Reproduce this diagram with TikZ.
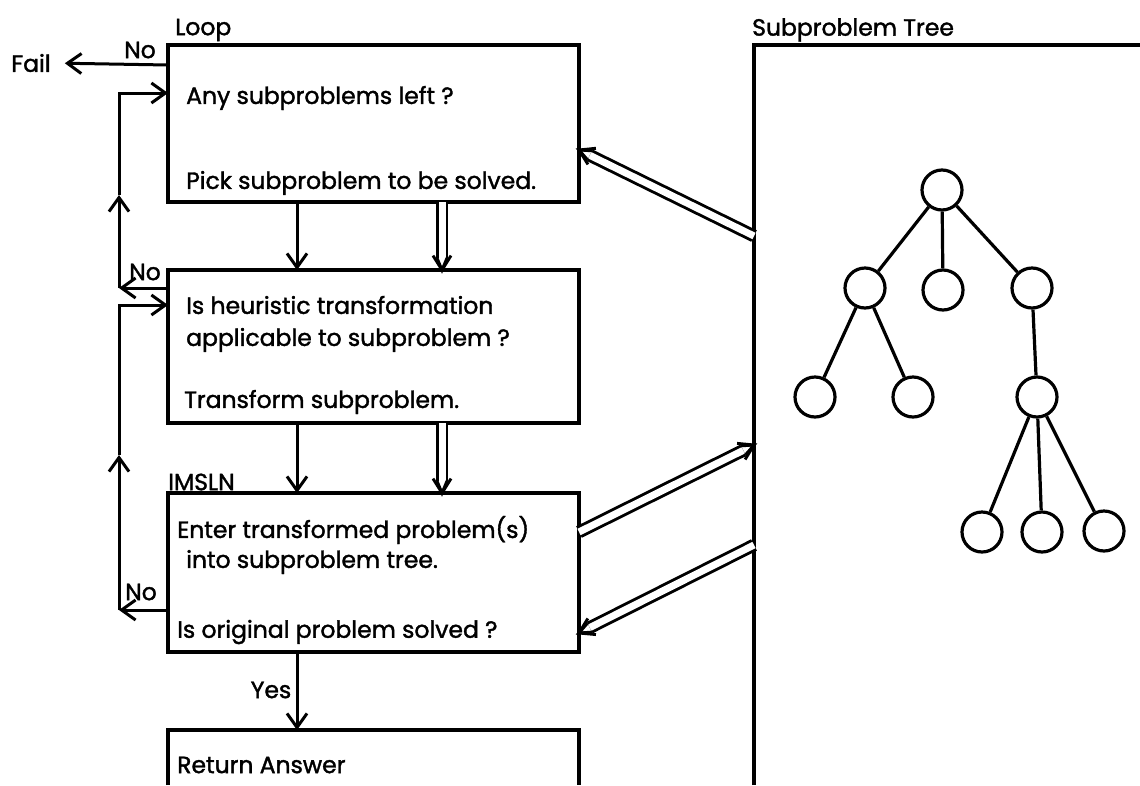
\documentclass[tikz,border=0pt]{standalone}
\usepackage{fontspec}
\setmainfont{Poppins}[FakeBold=1.6]
\usetikzlibrary{arrows.meta,calc,positioning}

\tikzset{
  box/.style={draw, line width=3.4pt, minimum width=411pt, inner sep=0pt, outer sep=0pt, anchor=north west},
  openbox/.style={minimum width=411pt, inner sep=0pt, outer sep=0pt, anchor=north west},
  txt/.style={anchor=west, inner sep=0pt, font=\fontsize{23.5}{27}\selectfont},
  lbl/.style={inner sep=0pt, font=\fontsize{23.5}{27}\selectfont},
  arr/.style={line width=3pt, -{Straight Barb[length=14pt,width=20pt,line width=3pt]}},
  dblshaft/.style={line width=2.9pt, double distance=7pt},
  leaf/.style={circle, draw, line width=3.2pt, minimum size=40pt, inner sep=0pt},
  edge/.style={line width=3.2pt}
}

% double arrow from #1 to #2 (named coordinates)
\newcommand{\dblarr}[2]{%
  \coordinate (dbk) at ($(#2)!12pt!(#1)$);
  \coordinate (dbl) at ($(dbk)!5pt!90:(#2)$);
  \coordinate (dbr) at ($(dbk)!5pt!-90:(#2)$);
  \draw[dblshaft] (#1) -- (dbk);
  \draw[line width=2.9pt, line join=miter] (dbl) -- (#2) -- (dbr);
  \draw[line width=2.9pt, line join=miter] ($(#2)!17pt!32:(#1)$) -- (#2) -- ($(#2)!17pt!-32:(#1)$);
}

\begin{document}
\begin{tikzpicture}[x=1pt, y=-1pt]
  \useasboundingbox (0,0) rectangle (1140,785);

  % flow boxes
  \node[box, minimum height=157pt] (loopbox) at (168,45) {};
  \node[box, minimum height=153pt] (heurbox) at (168,270) {};
  \node[box, minimum height=159pt] (entbox) at (168,493) {};
  \node[openbox, minimum height=55pt] (retbox) at (168,730) {};
  \draw[line width=3.4pt] (retbox.south west) -- (retbox.north west) -- (retbox.north east) -- (retbox.south east);

  \node[txt] (looplbl) at (175,30) {Loop};
  \node[txt] (anyleft) at (186,98) {Any subproblems left ?};
  \node[txt] (pick) at (186,183) {Pick subproblem to be solved.};
  \node[txt] (heur) at (186,305) {Is heuristic transformation};
  \node[txt] (appl) at (186,340) {applicable to subproblem ?};
  \node[txt] (trans) at (184,402) {Transform subproblem.};
  \node[txt] (imsln) at (168,482) {IMSLN};
  \node[txt] (enter) at (177,530) {Enter transformed problem(s)};
  \node[txt] (into) at (186,562) {into subproblem tree.};
  \node[txt] (solved) at (177,632) {Is original problem solved ?};
  \node[txt] (ret) at (177,765) {Return Answer};

  % outside labels
  \node[lbl] (fail) at (31,63) {Fail};
  \node[lbl] (no1) at (140,50) {No};
  \node[lbl] (no2) at (145,272) {No};
  \node[lbl] (no3) at (141,592) {No};
  \node[lbl] (yes) at (271,690) {Yes};

  % fail exit and the two loops
  \draw[arr, shorten >=14pt] (loopbox.west |- 0,65) -- (fail.east);
  \coordinate (up1) at (119,288);
  \coordinate (mid1) at (119,195);
  \coordinate (up2) at (119,610);
  \coordinate (mid2) at (119,455);
  \draw[arr] (heurbox.west |- up1) -- (up1);
  \draw[arr] (up1) -- (mid1);
  \draw[arr] (mid1) |- (loopbox.west |- 0,93);
  \draw[arr] (entbox.west |- up2) -- (up2);
  \draw[arr] (up2) -- (mid2);
  \draw[arr] (mid2) |- (heurbox.west |- 0,305);

  % downward arrows
  \coordinate (sx) at (297,0);
  \coordinate (dx) at (442,0);
  \draw[arr] (loopbox.south -| sx) -- (heurbox.north -| sx);
  \draw[arr] (heurbox.south -| sx) -- (entbox.north -| sx);
  \draw[arr] (entbox.south -| sx) -- (retbox.north -| sx);
  \coordinate (d1a) at (loopbox.south -| dx);
  \coordinate (d1b) at (heurbox.north -| dx);
  \coordinate (d2a) at (heurbox.south -| dx);
  \coordinate (d2b) at (entbox.north -| dx);
  \dblarr{d1a}{d1b}
  \dblarr{d2a}{d2b}

  % subproblem tree
  \node[minimum width=386pt, minimum height=740pt, inner sep=0pt, outer sep=0pt, anchor=north west] (treebox) at (754,45) {};
  \draw[line width=3.4pt] (treebox.south west) -- (treebox.north west) -- (treebox.north east);
  \node[txt] (treelbl) at (752,30) {Subproblem Tree};

  \node[leaf] (root) at (942,190) {};
  \node[leaf] (ta) at (865,288) {};
  \node[leaf] (tb) at (943,290) {};
  \node[leaf] (tc) at (1032,288) {};
  \node[leaf] (taa) at (815,397) {};
  \node[leaf] (tab) at (913,397) {};
  \node[leaf] (tca) at (1037,397) {};
  \node[leaf] (tcaa) at (982,532) {};
  \node[leaf] (tcab) at (1042,532) {};
  \node[leaf] (tcac) at (1104,531) {};
  \foreach \a/\b in {root/ta, root/tb, root/tc, ta/taa, ta/tab, tc/tca, tca/tcaa, tca/tcab, tca/tcac}
    \draw[edge] (\a) -- (\b);

  % tree exchange arrows
  \coordinate (t1) at (treebox.west |- 0,236);
  \coordinate (b1) at (loopbox.east |- 0,150);
  \coordinate (b3a) at (entbox.east |- 0,532);
  \coordinate (t2) at (treebox.west |- 0,445);
  \coordinate (t3) at (treebox.west |- 0,545);
  \coordinate (b3b) at (entbox.east |- 0,633);
  \dblarr{t1}{b1}
  \dblarr{b3a}{t2}
  \dblarr{t3}{b3b}
\end{tikzpicture}
\end{document}
